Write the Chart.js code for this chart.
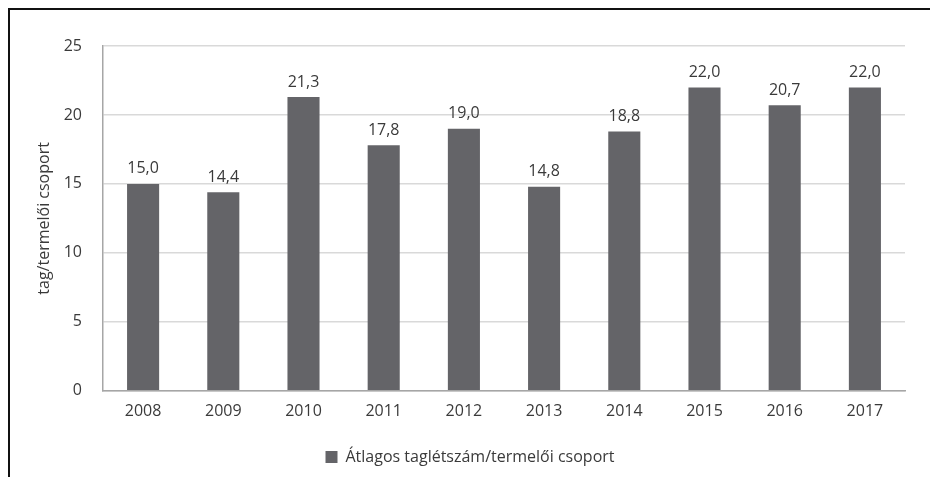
<!DOCTYPE html>
<html>
<head>
<meta charset="utf-8">
<script src="https://cdn.jsdelivr.net/npm/chart.js@4.4.0/dist/chart.umd.min.js"></script>
<style>
body { margin: 0; background: #fff; }
#wrap { position: relative; width: 930px; height: 477px; }
#frame { position: absolute; left: 8px; top: 8px; width: 940px; height: 480px;
  border-top: 2px solid #111; border-left: 2px solid #111; pointer-events: none; }
</style>
</head>
<body>
<div id="wrap">
<canvas id="chart" width="930" height="477"></canvas>
<div id="frame"></div>
</div>
<script>
// years and average member count per producer group
var years = ["2008", "2009", "2010", "2011", "2012", "2013", "2014", "2015", "2016", "2017"];
var members = [15.0, 14.4, 21.3, 17.8, 19.0, 14.8, 18.8, 22.0, 20.7, 22.0];
var seriesName = "Átlagos taglétszám/termelői csoport";
var yTicks = [0, 5, 10, 15, 20, 25];

var textColor = "#3a3a3a";
var fontName = "'Open Sans', 'Liberation Sans', sans-serif";

// value labels above bars, hungarian decimal comma
var barLabels = {
    id: "barLabels",
    afterDatasetsDraw: function(chart) {
        var ctx = chart.ctx;
        var meta = chart.getDatasetMeta(0);
        ctx.save();
        ctx.fillStyle = textColor;
        ctx.font = "16px " + fontName;
        ctx.textAlign = "center";
        ctx.textBaseline = "bottom";
        meta.data.forEach(function(bar, i) {
            ctx.fillText(members[i].toFixed(1).replace(".", ","), bar.x, bar.y - 7);
        });
        ctx.restore();
    }
};

var section = document.getElementById("chart");
var myChart = new Chart(section, {
    type: "bar",
    data: {
        labels: years,
        datasets: [{
            label: seriesName,
            data: members,
            backgroundColor: "#646468",
            borderWidth: 0,
            barPercentage: 0.4,
            categoryPercentage: 1.0
        }]
    },
    options: {
        responsive: false,
        animation: false,
        layout: { padding: { left: 35, right: 25, top: 46, bottom: 2 } },
        scales: {
            x: {
                grid: { display: false, drawTicks: false },
                border: { color: "#a6a6a6", width: 1.5 },
                ticks: { color: textColor, font: { size: 16, family: fontName }, padding: 11 }
            },
            y: {
                min: 0,
                max: 25,
                afterBuildTicks: function(scale) {
                    scale.ticks = yTicks.map(function(v) { return { value: v }; });
                },
                afterFit: function(scale) { scale.width = 68; },
                grid: { color: "#d9d9d9", lineWidth: 1.5, drawTicks: false },
                border: { color: "#a6a6a6", width: 1.5 },
                ticks: { color: textColor, font: { size: 16, family: fontName }, padding: 21 },
                title: {
                    display: true,
                    text: "tag/termelői csoport",
                    color: textColor,
                    font: { size: 16, family: fontName },
                    padding: 0
                }
            }
        },
        plugins: {
            legend: {
                position: "bottom",
                labels: {
                    color: textColor,
                    font: { size: 16, family: fontName },
                    boxWidth: 12,
                    boxHeight: 12,
                    padding: 17
                }
            },
            tooltip: { enabled: false }
        }
    },
    plugins: [barLabels]
});
</script>
</body>
</html>
